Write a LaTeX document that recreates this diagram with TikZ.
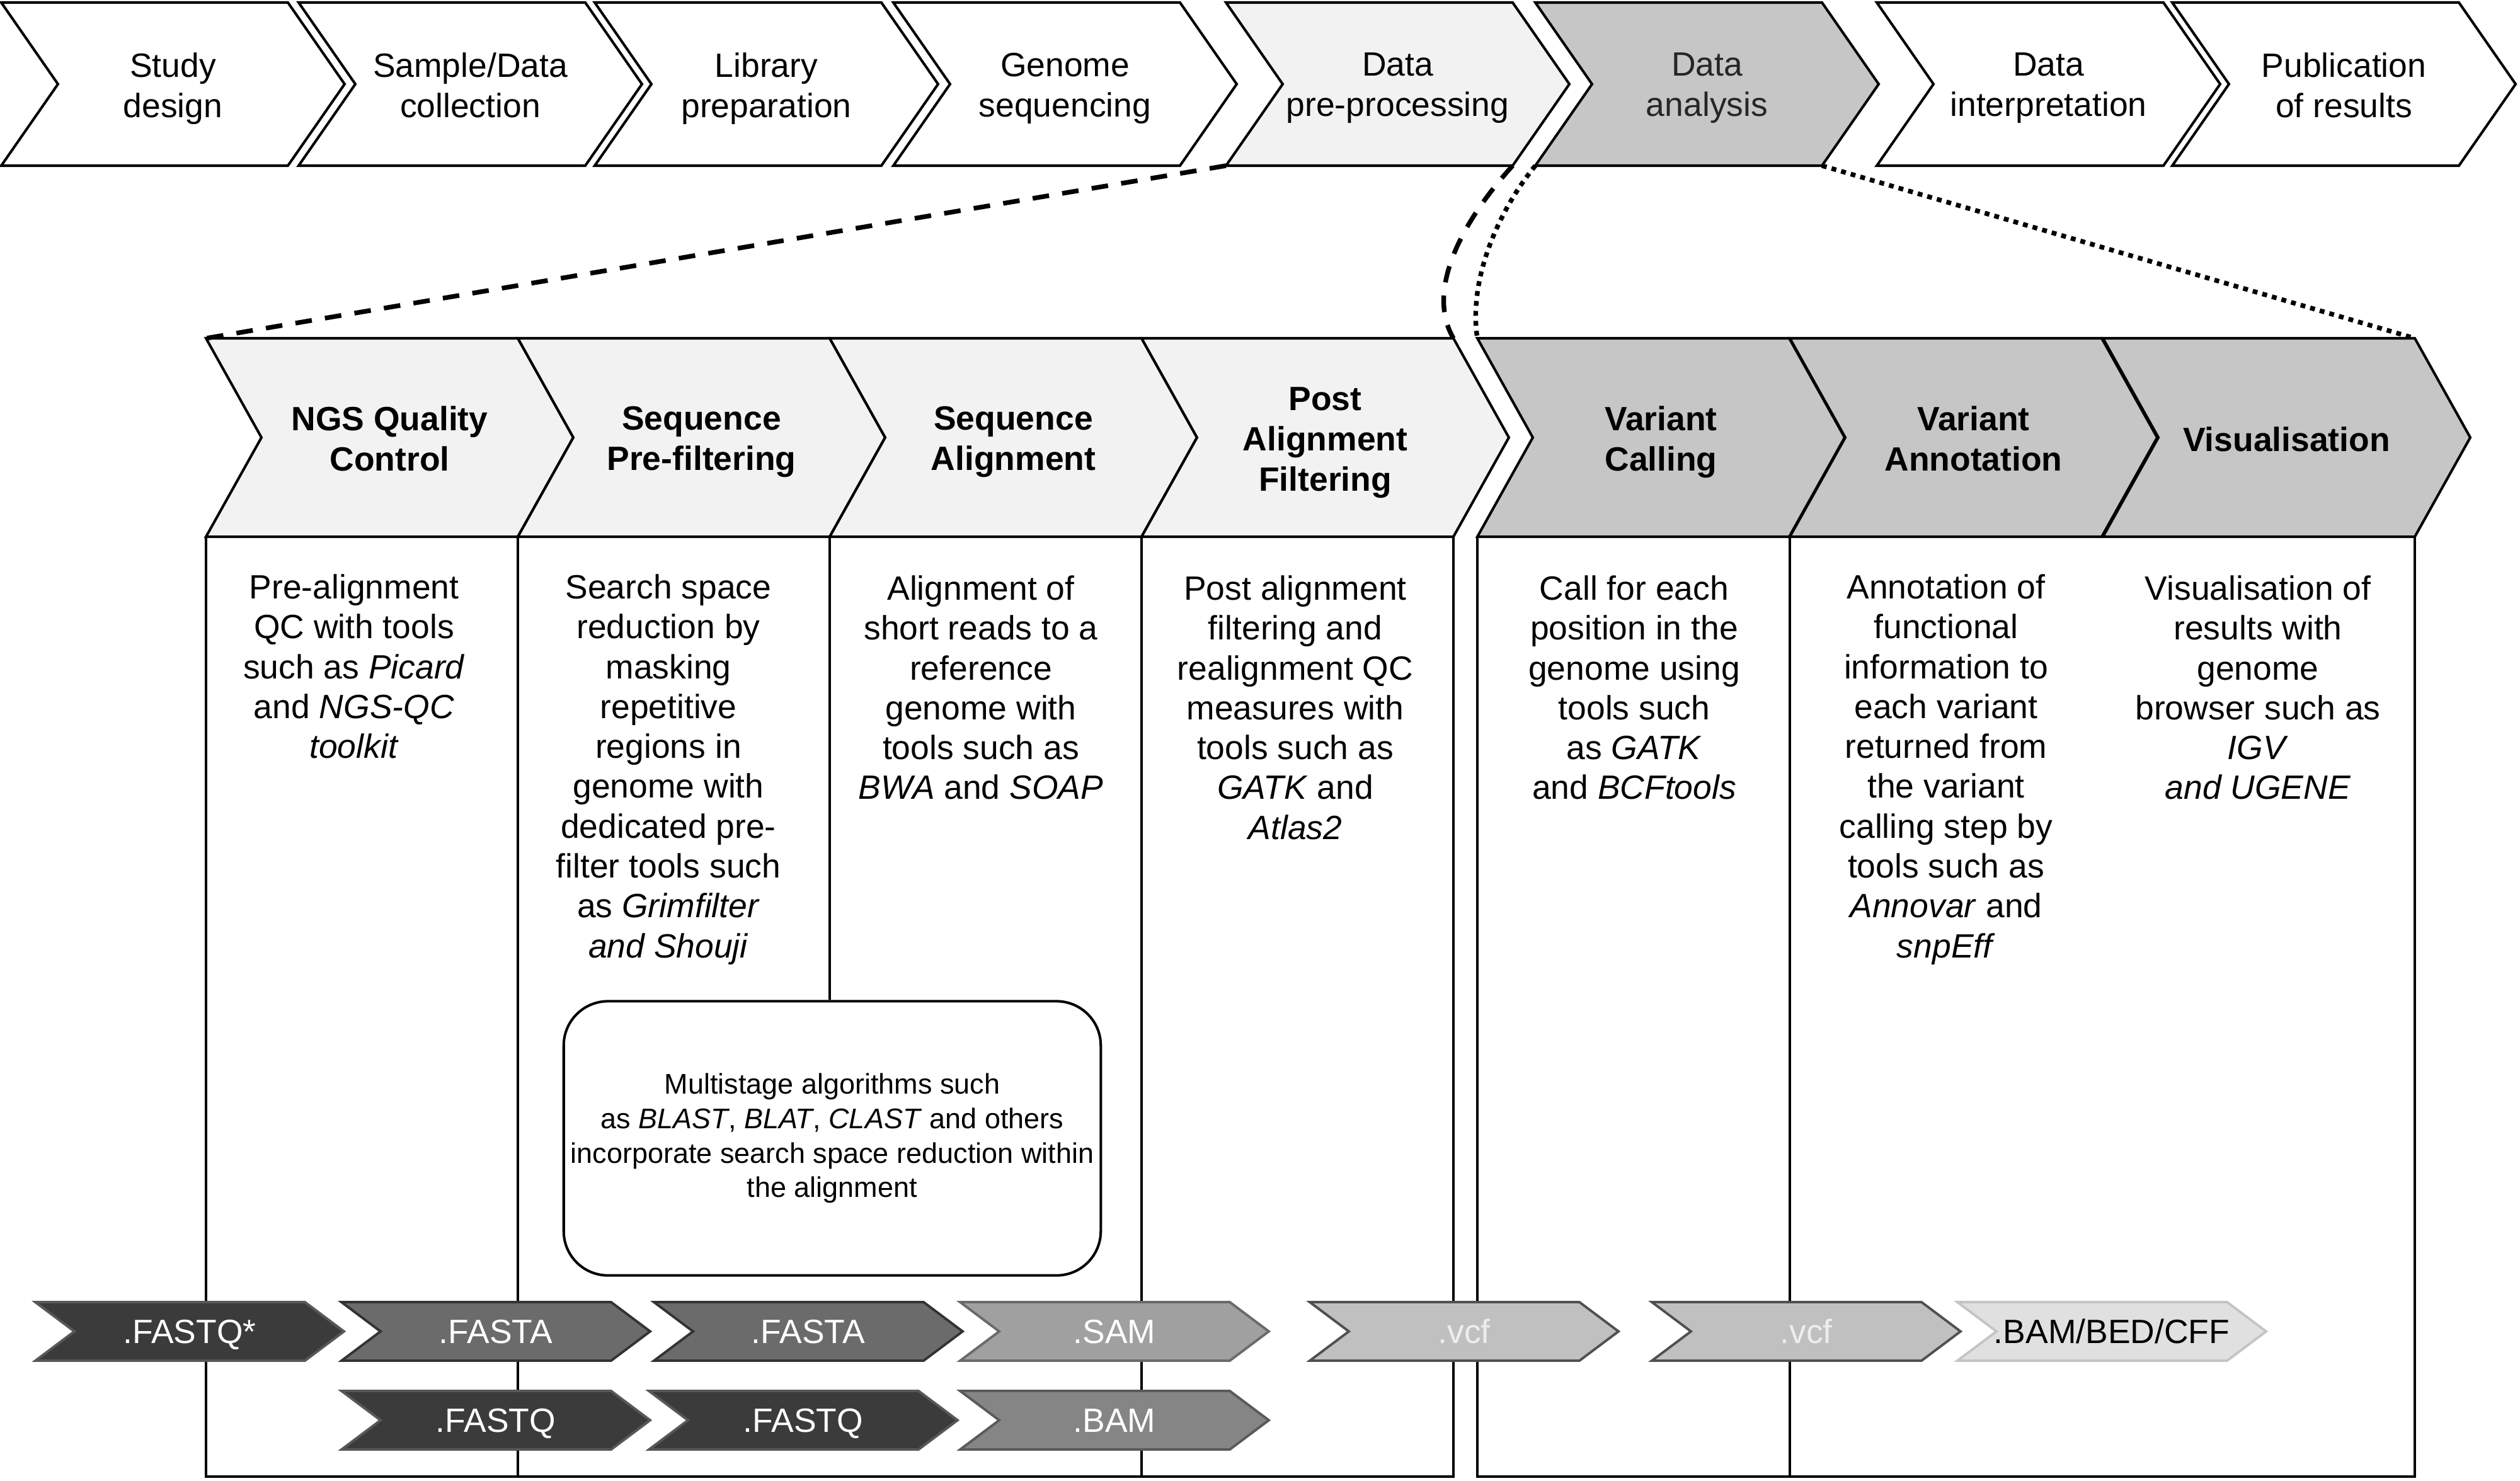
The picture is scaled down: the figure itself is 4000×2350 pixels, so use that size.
\documentclass[tikz,border=0pt]{standalone}
\usepackage{fontspec}
\setmainfont{Liberation Sans}
\usetikzlibrary{calc}
\definecolor{lightfill}{HTML}{F2F2F2}
\definecolor{midfill}{HTML}{C6C6C6}
\definecolor{fqfill}{HTML}{3B3B3B}
\definecolor{fqdraw}{HTML}{585858}
\definecolor{fafill}{HTML}{6B6B6B}
\definecolor{fadraw}{HTML}{333333}
\definecolor{samfill}{HTML}{A0A0A0}
\definecolor{samdraw}{HTML}{6A6A6A}
\definecolor{bamfill}{HTML}{858585}
\definecolor{bamdraw}{HTML}{5A5A5A}
\definecolor{vcffill}{HTML}{C0C0C0}
\definecolor{vcfdraw}{HTML}{505050}
\definecolor{bbfill}{HTML}{E0E0E0}
\definecolor{bbdraw}{HTML}{C4C4C4}
\definecolor{vcftext}{HTML}{EDEDED}

% #1 name, #2 left x, #3 top y, #4 total width, #5 height, #6 point depth, #7 path style, #8 node style; text follows
\newcommand{\chev}[8]{%
  \path[#7] (#2,#3) -- ({#2+#4-#6},#3) -- ({#2+#4},{#3+#5/2}) -- ({#2+#4-#6},{#3+#5}) -- (#2,{#3+#5}) -- ({#2+#6},{#3+#5/2}) -- cycle;
  \coordinate (#1-tl) at (#2,#3);
  \coordinate (#1-tr) at ({#2+#4-#6},#3);
  \coordinate (#1-bl) at (#2,{#3+#5});
  \coordinate (#1-br) at ({#2+#4-#6},{#3+#5});
  \node[#8] (#1) at ({#2+#4/2},{#3+#5/2})}

\tikzset{
  stagechev/.style={draw=black, line width=1.15pt, line join=miter},
  toptext/.style={font=\fontsize{15.2}{18.2}\selectfont, align=center, inner sep=0pt, text=black, anchor=north, yshift=0.505cm},
  headbase/.style={font=\bfseries\fontsize{15.2}{18.2}\selectfont, align=center, inner sep=0pt, anchor=north},
  headtwo/.style={headbase, yshift=0.505cm},
  headthree/.style={headbase, yshift=0.805cm},
  headone/.style={headbase, yshift=0.175cm},
  bodytext/.style={font=\fontsize{15.2}{18}\selectfont, align=center, inner sep=0pt, anchor=north},
  filechev/.style={line width=1.1pt, line join=miter},
  filetext/.style={font=\fontsize{15.2}{18}\selectfont, inner sep=0pt, text=white, text height=0.38cm, text depth=0pt},
  framelines/.style={line width=1.1pt, line join=miter},
  zoomdash/.style={line width=2.1pt, dash pattern=on 7.5pt off 6pt},
  zoomdot/.style={line width=2.1pt, dash pattern=on 2.2pt off 2.3pt},
  multibox/.style={draw, line width=1.15pt, rounded corners=20pt, minimum width=8.52cm, minimum height=4.35cm, align=center, inner sep=0pt, font=\fontsize{12.8}{15.6}\selectfont}
}

\begin{document}
\begin{tikzpicture}[x=0.01cm, y=-0.01cm]
\useasboundingbox (0,0) rectangle (4000,2350);
\fill[white] (0,0) rectangle (4000,2350);

% ---------- top process chevrons ----------
\chev{t1}{2}{4}{545}{259}{90}{stagechev, fill=white}{toptext}{Study\\design};
\chev{t2}{474}{4}{545}{259}{90}{stagechev, fill=white}{toptext}{Sample/Data\\collection};
\chev{t3}{944}{4}{545}{259}{90}{stagechev, fill=white}{toptext}{Library\\preparation};
\chev{t4}{1418}{4}{545}{259}{90}{stagechev, fill=white}{toptext}{Genome\\sequencing};
\chev{t5}{1946}{4}{545}{259}{90}{stagechev, fill=lightfill}{toptext}{Data\\pre-processing};
\chev{t6}{2437}{4}{545}{259}{90}{stagechev, fill=midfill}{toptext, text=black!85}{Data\\analysis};
\chev{t7}{2979}{4}{545}{259}{90}{stagechev, fill=white}{toptext}{Data\\interpretation};
\chev{t8}{3448}{4}{545}{259}{90}{stagechev, fill=white}{toptext}{Publication\\of results};

% ---------- lower header chevrons ----------
\chev{h1}{327}{537}{583}{315}{88}{stagechev, fill=lightfill}{headtwo}{NGS Quality\\Control};
\chev{h2}{822}{537}{583}{315}{88}{stagechev, fill=lightfill}{headtwo}{Sequence\\Pre-filtering};
\chev{h3}{1317}{537}{583}{315}{88}{stagechev, fill=lightfill}{headtwo}{Sequence\\Alignment};
\chev{h4}{1812}{537}{583}{315}{88}{stagechev, fill=lightfill}{headthree}{Post\\Alignment\\Filtering};
\chev{h5}{2345}{537}{583}{315}{88}{stagechev, fill=midfill}{headtwo}{Variant\\Calling};
\chev{h6}{2841}{537}{583}{315}{88}{stagechev, fill=midfill}{headtwo}{Variant\\Annotation};
\chev{h7}{3338}{537}{583}{315}{88}{stagechev, fill=midfill}{headone}{Visualisation};

% ---------- zoom connectors ----------
\draw[zoomdash] (t5-bl) -- (h1-tl);
\draw[zoomdash] (t5-br) .. controls (2322,350) and (2262,460) .. (h4-tr);
\draw[zoomdot] (t6-bl) .. controls (2382,330) and (2330,440) .. (h5-tl);
\draw[zoomdot] (t6-br) -- (h7-tr);

% ---------- multistage box ----------
\node[multibox] (multi) at (1321,1807) {Multistage algorithms such\\as \textit{BLAST}, \textit{BLAT}, \textit{CLAST} and others\\incorporate search space reduction within\\the alignment};

% ---------- column frames ----------
\coordinate (bot) at (0,2344);
\draw[framelines] (h1-bl) -- (h1-bl |- bot) -- (h4-br |- bot) -- (h4-br);
\draw[framelines] (h2-bl) -- (h2-bl |- bot);
\draw[framelines] (h4-bl) -- (h4-bl |- bot);
\draw[framelines] (h3-bl) -- (h3-bl |- multi.north);
\draw[framelines] (h5-bl) -- (h5-bl |- bot) -- (h7-br |- bot) -- (h7-br);
\draw[framelines] (h6-bl) -- (h6-bl |- bot);

% ---------- column descriptions ----------
\node[bodytext] (d1) at (562,911) {Pre-alignment\\QC with tools\\such as \textit{Picard}\\and \textit{NGS-QC}\\\textit{toolkit}};
\node[bodytext] (d2) at (1061,911) {Search space\\reduction by\\masking\\repetitive\\regions in\\genome with\\dedicated pre-\\filter tools such\\as \textit{Grimfilter}\\\textit{and Shouji}};
\node[bodytext] (d3) at (1557,913) {Alignment of\\short reads to a\\reference\\genome with\\tools such as\\\textit{BWA} and \textit{SOAP}};
\node[bodytext] (d4) at (2056,913) {Post alignment\\filtering and\\realignment QC\\measures with\\tools such as\\\textit{GATK} and\\\textit{Atlas2}};
\node[bodytext] (d5) at (2594,913) {Call for each\\position in the\\genome using\\tools such\\as \textit{GATK}\\and \textit{BCFtools}};
\node[bodytext] (d6) at (3089,911) {Annotation of\\functional\\information to\\each variant\\returned from\\the variant\\calling step by\\tools such as\\\textit{Annovar} and\\\textit{snpEff}};
\node[bodytext] (d7) at (3584,913) {Visualisation of\\results with\\genome\\browser such as\\\textit{IGV}\\\textit{and UGENE}};

% ---------- file format chevrons ----------
\chev{f1}{56}{2067}{490}{93}{62}{filechev, fill=fqfill, draw=fqdraw}{filetext}{.FASTQ*};
\chev{f2}{542}{2067}{490}{93}{62}{filechev, fill=fafill, draw=fadraw}{filetext}{.FASTA};
\chev{f3}{1038}{2067}{490}{93}{62}{filechev, fill=fafill, draw=fadraw}{filetext}{.FASTA};
\chev{f4}{1524}{2067}{490}{93}{62}{filechev, fill=samfill, draw=samdraw}{filetext}{.SAM};
\chev{f5}{2079}{2067}{490}{93}{62}{filechev, fill=vcffill, draw=vcfdraw}{filetext, text=vcftext}{.vcf};
\chev{f6}{2622}{2067}{490}{93}{62}{filechev, fill=vcffill, draw=vcfdraw}{filetext, text=vcftext}{.vcf};
\chev{f7}{3107}{2067}{490}{93}{62}{filechev, fill=bbfill, draw=bbdraw}{filetext, text=black}{.BAM/BED/CFF};
\chev{g2}{542}{2208}{490}{93}{62}{filechev, fill=fqfill, draw=fqdraw}{filetext}{.FASTQ};
\chev{g3}{1030}{2208}{490}{93}{62}{filechev, fill=fqfill, draw=fqdraw}{filetext}{.FASTQ};
\chev{g4}{1524}{2208}{490}{93}{62}{filechev, fill=bamfill, draw=bamdraw}{filetext}{.BAM};
\end{tikzpicture}
\end{document}
